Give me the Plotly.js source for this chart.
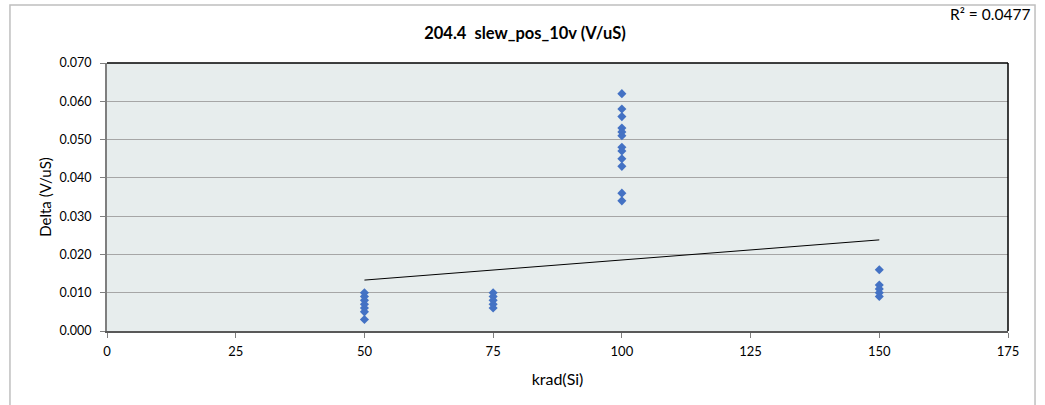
<!DOCTYPE html>
<html>
<head>
<meta charset="utf-8">
<script src="https://cdn.plot.ly/plotly-3.0.1.min.js"></script>
<style>html,body{margin:0;padding:0;background:#fff;}#chart{width:1045px;height:405px;}</style>
</head>
<body>
<div id="chart"></div>
<script>
// Data
const doseX = [50,50,50,50,50,50,50, 75,75,75,75,75, 100,100,100,100,100,100,100,100,100,100,100,100, 150,150,150,150,150];
const deltaY = [0.010,0.009,0.008,0.007,0.006,0.005,0.003,
                0.010,0.009,0.008,0.007,0.006,
                0.062,0.058,0.056,0.053,0.052,0.051,0.048,0.047,0.045,0.043,0.036,0.034,
                0.016,0.012,0.011,0.010,0.009];
const trendX = [50, 150];
const trendY = [0.0133, 0.0238];
const xTicks = [0,25,50,75,100,125,150,175];
const yTicks = [0,0.01,0.02,0.03,0.04,0.05,0.06,0.07];
const chartTitle = "204.4  slew_pos_10v (V/uS)";
const rSquaredText = "R² = 0.0477";

const FONT = "Lato, 'Open Sans', sans-serif";

const traces = [
  {x: trendX, y: trendY, type: 'scatter', mode: 'lines',
   line: {color: '#000000', width: 1}, hoverinfo: 'skip', showlegend: false},
  {x: doseX, y: deltaY, type: 'scatter', mode: 'markers',
   marker: {symbol: 'diamond', size: 7, color: '#4472c4', line: {width: 0}}, showlegend: false}
];

const layout = {
  width: 1045, height: 405,
  margin: {l: 107, r: 37, t: 63, b: 74},
  paper_bgcolor: '#ffffff',
  plot_bgcolor: '#e7eded',
  font: {family: FONT, size: 12, color: '#000'},
  title: {text: '<b>' + chartTitle + '</b>', x: 0.5024, xref: 'container', xanchor: 'center', y: 0.918, yanchor: 'middle',
          font: {family: FONT, size: 16.5, color: '#000'}},
  xaxis: {range: [0,175], tickvals: xTicks, ticktext: xTicks.map(String),
          showgrid: false, zeroline: false, showline: true, linecolor: '#595959', linewidth: 2,
          ticks: 'outside', ticklen: 5, tickcolor: '#7f7f7f', tickwidth: 1, ticklabelstandoff: 2,
          tickfont: {family: FONT, size: 13, color: '#000'},
          title: {text: 'krad(Si)', font: {family: FONT, size: 16, color: '#000'}, standoff: 16},
          mirror: false, fixedrange: true},
  yaxis: {range: [0,0.07], tickvals: yTicks, ticktext: yTicks.map(v => v.toFixed(3)),
          showgrid: true, gridcolor: '#a6a6a6', gridwidth: 1, zeroline: false,
          showline: true, linecolor: '#7f7f7f', linewidth: 2,
          ticks: 'outside', ticklen: 5, tickcolor: '#7f7f7f', tickwidth: 1, ticklabelstandoff: 6,
          tickfont: {family: FONT, size: 12.5, color: '#000'},
          title: {text: 'Delta (V/uS)', font: {family: FONT, size: 15, color: '#000'}, standoff: 4},
          fixedrange: true},
  shapes: [
    {type: 'rect', xref: 'paper', yref: 'paper', x0: -0.1077, x1: 1.030, y0: -0.32, y1: 1.2164,
     line: {color: '#bfbfbf', width: 1.5}, fillcolor: 'rgba(0,0,0,0)', layer: 'below'},
    {type: 'line', xref: 'paper', yref: 'paper', x0: 0, x1: 1, y0: 1, y1: 1, line: {color: '#000', width: 1.5}},
    {type: 'line', xref: 'paper', yref: 'paper', x0: 1, x1: 1, y0: 0, y1: 1, line: {color: '#000', width: 1.5}}
  ],
  annotations: [
    {text: rSquaredText, xref: 'paper', yref: 'paper', x: 1.0265, y: 1.184, xanchor: 'right', yanchor: 'middle',
     showarrow: false, font: {family: FONT, size: 15.5, color: '#000'}}
  ]
};

Plotly.newPlot('chart', traces, layout, {displayModeBar: false, staticPlot: true});
</script>
</body>
</html>
